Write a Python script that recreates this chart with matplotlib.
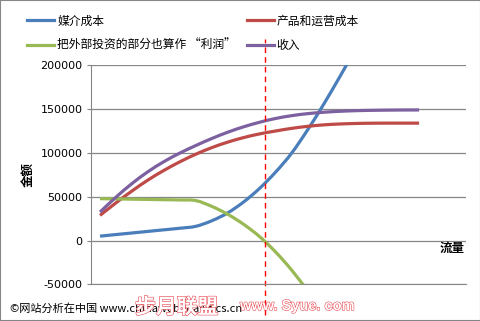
import numpy as np
import matplotlib
matplotlib.use("Agg")
import matplotlib.pyplot as plt
import matplotlib.patheffects as pe
from matplotlib.path import Path
from matplotlib.patches import PathPatch
from matplotlib.lines import Line2D

plt.rcParams['font.family'] = ['Noto Sans CJK SC', 'DejaVu Sans']

# flow (x) values and series values
flow = [0, 5, 10, 15, 20, 25, 30, 35, 40, 45, 50, 55, 60, 65, 70, 75, 80, 85, 90, 95, 100]
media_cost = [5000, 6800, 8600, 10400, 12200, 14000, 16200, 22500, 31500, 44000, 59500,
              78000, 99500, 126000, 155000, 186000, 218000]
product_cost = [28700, 43000, 56500, 69000, 80000, 89800, 98500, 106000, 112300, 117500, 121700,
                125000, 128000, 130300, 132000, 133000, 133600, 133900, 134000, 134000, 134000]
profit = [47800, 47500, 47200, 46900, 46600, 46300, 45600, 39000, 30000, 18500, 4500,
          -13000, -33500, -57000]
revenue = [32500, 49500, 65000, 78500, 90000, 99800, 108400, 116400, 123600, 129800, 135000,
           139300, 142500, 144800, 146400, 147500, 148200, 148600, 148850, 149000, 149050]
labels = ['媒介成本', '产品和运营成本', '把外部投资的部分也算作 “利润”', '收入']
colors = ['#4A7EBB', '#BE4B48', '#98B954', '#7D60A0']
yticks = [-50000, 0, 50000, 100000, 150000, 200000]
cut_flow = 51.8


def smooth_path(xs, ys):
    # excel-style smoothed line: bezier segments through the points
    pts = np.column_stack([np.asarray(xs, float), np.asarray(ys, float)])
    verts = [pts[0]]
    codes = [Path.MOVETO]
    n = len(pts)
    for i in range(n - 1):
        p0 = pts[max(i - 1, 0)]
        p1 = pts[i]
        p2 = pts[i + 1]
        p3 = pts[min(i + 2, n - 1)]
        verts += [p1 + (p2 - p0) / 6.0, p2 - (p3 - p1) / 6.0, p2]
        codes += [Path.CURVE4] * 3
    return Path(verts, codes)


fig = plt.figure(figsize=(4.81, 3.21), dpi=100)
ax = fig.add_axes([0.1886, 0.1143, 0.7802, 0.6822])

series = [media_cost, product_cost, profit, revenue]
handles = []
for vals, lab, c in zip(series, labels, colors):
    patch = PathPatch(smooth_path(flow[:len(vals)], vals), fill=False, edgecolor=c, lw=2.3,
                      capstyle='butt', transform=ax.transData)
    ax.add_patch(patch)
    handles.append(Line2D([], [], color=c, lw=2.3, label=lab))

ax.set_xlim(-2.92, 114.7)
ax.set_ylim(-50000, 200000)
ax.set_yticks(yticks)
ax.set_yticklabels([str(v) for v in yticks], family='DejaVu Sans', fontsize=8)
ax.set_xticks([])
ax.grid(axis='y', color='#868686', lw=0.9)
ax.set_axisbelow(True)
for s in ['top', 'right']:
    ax.spines[s].set_visible(False)
ax.spines['left'].set_color('#868686')
ax.spines['bottom'].set_color('#868686')
ax.tick_params(axis='y', direction='out', length=3, color='#868686', pad=3)

# dashed cut line
ax.axvline(cut_flow, ymin=-0.14, ymax=1.12, color='red', lw=1, ls=(0, (4, 3)), clip_on=False)

ax.set_ylabel('金额', fontsize=9, fontweight='bold', labelpad=4)
ax.text(0.995, 0.163, '流量', transform=ax.transAxes, fontsize=9, fontweight='bold', ha='right', va='center')

order = [0, 2, 1, 3]
ax.legend([handles[i] for i in order], [labels[i] for i in order], loc='upper left',
          bbox_to_anchor=(27 / 481, 1 - 14.5 / 321), bbox_transform=fig.transFigure,
          ncol=2, frameon=False, fontsize=8.5, handlelength=2.3, handletextpad=0.25,
          columnspacing=0.9, labelspacing=0.95, borderpad=0, borderaxespad=0)

fig.text(10 / 481, 1 - 308 / 321, '©网站分析在中国 www.chinawebanalytics.cn', fontsize=8, va='center')
wm1 = fig.text(135 / 481, 1 - 307 / 321, '步月联盟', fontsize=15, fontweight='bold',
               color='white', va='center')
wm2 = fig.text(240 / 481, 1 - 306 / 321, 'www. Syue. com', fontsize=10.5, fontweight='bold',
               family='Liberation Sans', color='white', va='center')
for t in (wm1, wm2):
    t.set_path_effects([pe.Stroke(linewidth=0.8, foreground='#E8474F'), pe.Normal()])

fig.patches.append(plt.Rectangle((0, 0), 1, 1, transform=fig.transFigure, fill=False,
                                 edgecolor='#868686', lw=1.5))
fig.savefig('out.png', dpi=100)
